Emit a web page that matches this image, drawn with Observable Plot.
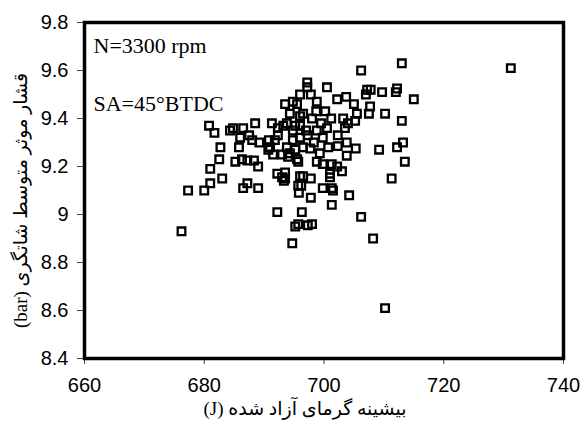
<!DOCTYPE html>
<html><head><meta charset="utf-8">
<script src="https://cdn.jsdelivr.net/npm/d3@7"></script>
<script src="https://cdn.jsdelivr.net/npm/@observablehq/plot@0.6"></script>
<style>
body{margin:0;background:#fff;}
#chart svg{display:block;}
</style></head><body><div id="chart"></div>
<script>
const heat = [676.2,677.3,680.0,681.0,683.0,681.0,682.5,682.7,680.8,681.7,684.3,684.8,686.5,688.5,686.0,687.5,688.0,689.2,690.8,691.3,
685.8,685.2,686.3,687.2,688.3,689.0,686.5,687.2,689.0,692.2,696.3,692.2,693.0,693.5,696.0,693.8,692.3,695.2,694.8,695.5,
693.5,697.2,697.2,696.0,691.0,691.8,692.3,690.7,691.5,693.0,694.3,695.5,694.3,696.0,696.5,706.2,713.0,731.2,697.8,700.5,
694.8,698.8,702.2,703.7,705.0,707.2,707.8,707.0,709.7,712.2,712.0,715.0,707.7,707.5,710.2,713.0,705.5,705.2,698.0,698.7,
700.2,701.2,703.2,704.0,703.5,693.2,696.0,698.8,700.5,702.3,703.8,705.3,709.2,712.2,713.2,713.5,711.3,693.8,695.2,696.5,
697.7,699.3,700.7,702.3,703.8,698.8,699.8,701.3,702.2,703.0,695.7,694.0,693.5,696.5,697.8,701.0,701.0,695.7,695.8,699.8,
701.3,701.5,697.8,704.2,701.3,706.2,695.7,695.2,697.3,698.0,708.2,694.7,710.2,696.2,693.3,696.0,697.3,698.3,699.8,694.8,
697.0,699.5];
const imep = [8.93,9.10,9.10,9.13,9.15,9.19,9.23,9.28,9.37,9.34,9.35,9.36,9.36,9.38,9.32,9.33,9.31,9.30,9.31,9.38,
9.28,9.22,9.23,9.225,9.225,9.20,9.11,9.13,9.11,9.01,9.01,9.17,9.155,9.15,9.16,9.38,9.36,9.37,9.35,9.46,
9.46,9.55,9.53,9.50,9.28,9.31,9.33,9.27,9.25,9.25,9.255,9.23,9.42,9.41,9.42,9.60,9.63,9.61,9.50,9.53,
9.47,9.47,9.48,9.49,9.46,9.52,9.52,9.50,9.51,9.525,9.51,9.48,9.45,9.42,9.42,9.39,9.42,9.39,9.40,9.43,
9.43,9.40,9.40,9.38,9.36,9.37,9.37,9.35,9.36,9.33,9.30,9.275,9.27,9.28,9.30,9.22,9.15,9.28,9.27,9.28,
9.275,9.255,9.28,9.285,9.245,9.22,9.21,9.21,9.20,9.18,9.22,9.24,9.175,9.16,9.15,9.17,9.155,9.12,9.09,9.11,
9.11,9.10,9.07,9.08,9.04,8.99,8.96,8.95,8.955,8.96,8.90,8.88,8.61,9.12,9.14,9.32,9.33,9.30,9.32,9.31,
9.35,9.38];
const xTicks = [660,680,700,720,740];
const yTicks = [8.4,8.6,8.8,9,9.2,9.4,9.6,9.8];
const xLabel = "بیشینه گرمای آزاد شده (J)";
const yLabel = "قشار موثر متوسط شاتگری (bar)";
const note1 = "N=3300 rpm";
const note2 = "SA=45°BTDC";
const points = heat.map((h, i) => ({heat: h, imep: imep[i]}));
const serif = "'Liberation Serif','Times New Roman','DejaVu Sans',serif";
const chart = Plot.plot({
  width: 584, height: 426,
  marginLeft: 84, marginRight: 21, marginTop: 22, marginBottom: 68,
  style: {background: "#fff", color: "#000", fontFamily: "'Liberation Sans',Arial,sans-serif", fontSize: "20px", overflow: "visible"},
  x: {domain: [660, 740]},
  y: {domain: [8.4, 9.8]},
  marks: [
    Plot.axisX({ticks: xTicks, tickSize: 6, tickPadding: 13, label: null, stroke: "#444", fontSize: 20}),
    Plot.axisY({ticks: yTicks, tickSize: 7, tickPadding: 9, label: null, stroke: "#444", fontSize: 20,
      tickFormat: d => String(+d.toFixed(1))}),
    Plot.dot(points, {x: "heat", y: "imep", symbol: "square", r: 4.3, stroke: "#000", strokeWidth: 2.3, fill: "none"}),
    Plot.frame({stroke: "#000", strokeWidth: 3.5}),
    Plot.text([note1], {text: d => d, frameAnchor: "top-left", dx: 9, dy: 30, lineAnchor: "bottom", textAnchor: "start", fontFamily: serif, fontSize: 22}),
    Plot.text([note2], {text: d => d, frameAnchor: "top-left", dx: 9, dy: 88, lineAnchor: "bottom", textAnchor: "start", fontFamily: serif, fontSize: 22}),
    Plot.text([xLabel], {text: d => d, frameAnchor: "bottom", dx: -19, dy: 50, lineAnchor: "middle", fontFamily: serif, fontSize: 19}),
    Plot.text([yLabel], {text: d => d, frameAnchor: "left", dx: -64, dy: 10, rotate: -90, lineAnchor: "middle", fontFamily: serif, fontSize: 19})
  ]
});
d3.select(chart).selectAll("text")
  .filter(function() { return /[\u0600-\u06FF]/.test(this.textContent); })
  .attr("direction", "rtl").style("direction", "rtl").attr("text-anchor", "middle");
document.getElementById("chart").appendChild(chart);
</script></body></html>
